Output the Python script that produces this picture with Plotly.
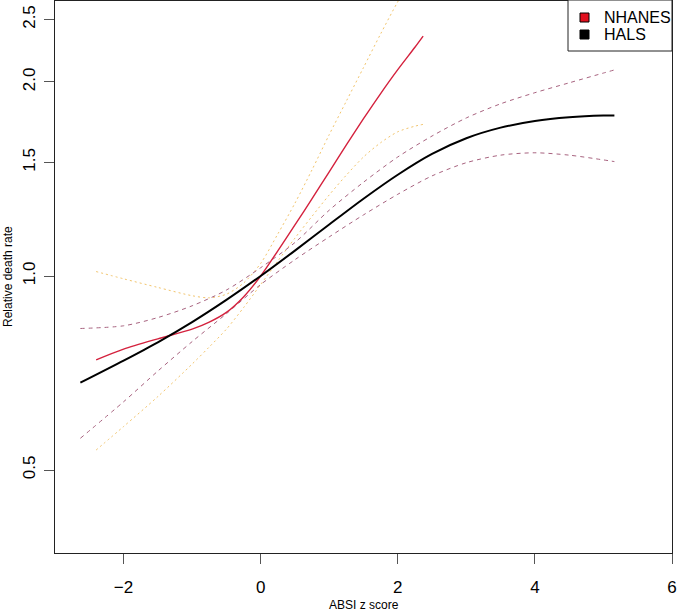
import plotly.graph_objects as go

# ---- data ----
hals_x = [-2.63, -2.0, -1.5, -1.0, -0.5, 0.0, 0.5, 1.0, 1.5, 2.0, 2.5, 3.0, 3.5, 4.0, 4.5, 5.0, 5.16]
hals_y = [0.683, 0.739, 0.789, 0.848, 0.918, 1.000, 1.095, 1.202, 1.318, 1.436, 1.547, 1.636, 1.699, 1.740, 1.763, 1.774, 1.775]
hals_hi = [0.829, 0.837, 0.862, 0.899, 0.951, 1.030, 1.127, 1.265, 1.398, 1.530, 1.649, 1.759, 1.850, 1.925, 1.994, 2.065, 2.088]
hals_lo = [0.560, 0.638, 0.712, 0.791, 0.874, 0.970, 1.060, 1.150, 1.244, 1.339, 1.430, 1.499, 1.540, 1.553, 1.540, 1.514, 1.505]

nh_x = [-2.4, -2.0, -1.5, -1.0, -0.75, -0.5, -0.25, 0.0, 0.25, 0.5, 0.75, 1.0, 1.25, 1.5, 1.75, 2.0, 2.25, 2.37]
nh_y = [0.741, 0.770, 0.799, 0.827, 0.848, 0.878, 0.928, 1.000, 1.094, 1.200, 1.318, 1.451, 1.597, 1.754, 1.919, 2.090, 2.264, 2.356]
nh_hi = [1.016, 0.990, 0.960, 0.932, 0.925, 0.937, 0.975, 1.046, 1.162, 1.297, 1.462, 1.657, 1.868, 2.106, 2.375, 2.664, 2.950, 3.158]
nh_lo = [0.537, 0.584, 0.650, 0.730, 0.776, 0.827, 0.893, 0.970, 1.055, 1.145, 1.238, 1.336, 1.434, 1.530, 1.610, 1.674, 1.708, 1.719]

x_ticks = [-2, 0, 2, 4, 6]
y_ticks = [0.5, 1.0, 1.5, 2.0, 2.5]
y_ticklabels = ["0.5", "1.0", "1.5", "2.0", "2.5"]

legend_names = ["NHANES", "HALS"]
legend_colors = ["#e0101e", "#000000"]

RED = "#d4213d"
ORANGE = "#f2c46b"
PURPLE = "#a8637f"
FONT = "Liberation Sans, Arial, Helvetica, sans-serif"

fig = go.Figure()

def line(x, y, color, width, dash):
    fig.add_trace(go.Scatter(x=x, y=y, mode="lines",
                             line=dict(color=color, width=width, dash=dash, shape="spline", smoothing=0.8),
                             showlegend=False, hoverinfo="skip"))

line(nh_x, nh_hi, ORANGE, 1, "2px,3px")
line(nh_x, nh_lo, ORANGE, 1, "2px,3px")
line(hals_x, hals_hi, PURPLE, 1, "4px,4px")
line(hals_x, hals_lo, PURPLE, 1, "4px,4px")
line(nh_x, nh_y, RED, 1.4, "solid")
line(hals_x, hals_y, "black", 2, "solid")

# ---- plot-area geometry (pixels) used for the legend box ----
L, R, T, B = 55, 672, 1, 553
W, H = R - L, B - T
def px(xp):
    return (xp - L) / W
def py(yp):
    return (B - yp) / H

shapes = [dict(type="rect", xref="paper", yref="paper", x0=px(568), x1=px(672), y0=py(51), y1=py(0),
               line=dict(color="#222", width=1), fillcolor="white", layer="above")]
annotations = []
for i, (name, col) in enumerate(zip(legend_names, legend_colors)):
    cy = 17.5 + i * 17
    shapes.append(dict(type="rect", xref="paper", yref="paper", x0=px(580), x1=px(589),
                       y0=py(cy + 4.5), y1=py(cy - 4.5), line=dict(color="black", width=1),
                       fillcolor=col, layer="above"))
    annotations.append(dict(text=name, xref="paper", yref="paper", x=px(602), y=py(cy),
                            xanchor="left", yanchor="middle", showarrow=False,
                            font=dict(size=16, family=FONT, color="black")))

annotations += [
    dict(text="ABSI z score", xref="paper", yref="paper", x=0.5, y=0, yshift=-52, xanchor="center", yanchor="middle",
         showarrow=False, font=dict(size=12, family=FONT)),
    dict(text="Relative death rate", xref="paper", yref="paper", x=0, xshift=-47, y=0.5, xanchor="center",
         yanchor="middle", textangle=-90, showarrow=False, font=dict(size=12, family=FONT)),
]

fig.update_layout(
    width=677, height=613,
    margin=dict(l=L, r=677 - R, t=T, b=613 - B),
    paper_bgcolor="white", plot_bgcolor="white",
    font=dict(family=FONT, color="black"),
    hovermode=False,
    showlegend=False,
    xaxis=dict(range=[-3, 6], tickvals=x_ticks, ticks="outside", ticklen=10, tickcolor="#555",
               showline=True, linecolor="#222", linewidth=1, mirror=True, showgrid=False, zeroline=False,
               ticklabelstandoff=9, tickfont=dict(size=17, family=FONT)),
    yaxis=dict(type="log", range=[-0.4298, 0.4267], tickvals=y_ticks, ticktext=y_ticklabels,
               ticks="outside", ticklen=10, tickcolor="#555", tickangle=-90,
               showline=True, linecolor="#222", linewidth=1, mirror=True, showgrid=False, zeroline=False,
               ticklabelstandoff=2, tickfont=dict(size=17, family=FONT)),
    shapes=shapes,
    annotations=annotations,
)

fig.write_html("out.html", config={"displayModeBar": False},
               post_script="document.body.style.margin='0';document.body.style.overflow='hidden';")
